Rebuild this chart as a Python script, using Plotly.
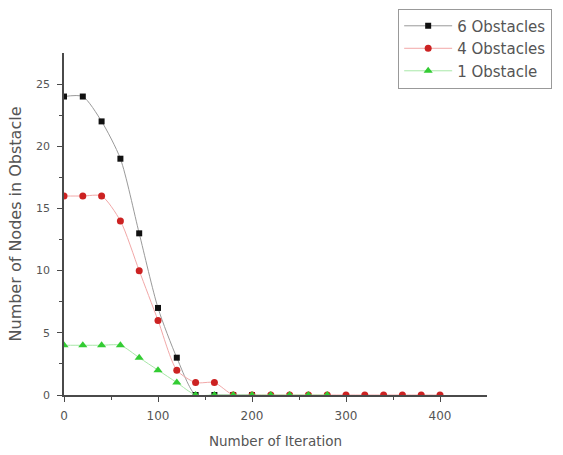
import plotly.graph_objects as go

iterations = [0, 20, 40, 60, 80, 100, 120, 140, 160, 180, 200, 220, 240, 260, 280, 300, 320, 340, 360, 380, 400]
obs6 = [24, 24, 22, 19, 13, 7, 3, 0, 0, 0, 0]
obs4 = [16, 16, 16, 14, 10, 6, 2, 1, 1, 0, 0, 0, 0, 0, 0, 0, 0, 0, 0, 0, 0]
obs1 = [4, 4, 4, 4, 3, 2, 1, 0, 0, 0, 0, 0, 0, 0, 0]

x_ticks = [0, 100, 200, 300, 400]
y_ticks = [0, 5, 10, 15, 20, 25]

FONT = "DejaVu Sans, Verdana, sans-serif"
TXT = "#555555"
AX = "#4a4a4a"

fig = go.Figure()
fig.add_trace(go.Scatter(
    x=iterations[:len(obs6)], y=obs6, name="6 Obstacles", mode="lines+markers",
    line=dict(color="#9a9a9a", width=1, shape="spline", smoothing=0.7),
    marker=dict(symbol="square", size=6, color="#111111"),
))
fig.add_trace(go.Scatter(
    x=iterations[:len(obs4)], y=obs4, name="4 Obstacles", mode="lines+markers",
    line=dict(color="#f2a8a8", width=1, shape="spline", smoothing=0.7),
    marker=dict(symbol="circle", size=7, color="#cc2222"),
))
fig.add_trace(go.Scatter(
    x=iterations[:len(obs1)], y=obs1, name="1 Obstacle", mode="lines+markers",
    line=dict(color="#a8e8a8", width=1, shape="spline", smoothing=0.7),
    marker=dict(symbol="triangle-up", size=8, color="#33cc33"),
))

fig.update_layout(
    width=563, height=455,
    margin=dict(l=64, r=76, t=53, b=60, autoexpand=False),
    paper_bgcolor="white", plot_bgcolor="white",
    font=dict(family=FONT, size=12, color=TXT),
    showlegend=True,
    legend=dict(
        x=0.79, y=1.13, xanchor="left", yanchor="top",
        bordercolor="#999999", borderwidth=1, bgcolor="white",
        font=dict(family=FONT, size=15, color="#555555"),
        tracegroupgap=0, itemwidth=48,
    ),
    xaxis=dict(
        range=[0, 450], tickvals=x_ticks, ticks="outside", ticklen=5, tickcolor=AX,
        ticklabelstandoff=4, automargin=False,
        tickfont=dict(family=FONT, size=12, color=TXT),
        showline=True, linecolor=AX, linewidth=1.5, showgrid=False, zeroline=False,
        minor=dict(tickvals=[50, 150, 250, 350], ticks="outside", ticklen=3, tickcolor=AX),
        title=dict(text="Number of Iteration", font=dict(family=FONT, size=13.5, color=TXT), standoff=14),
    ),
    yaxis=dict(
        range=[0, 27.5], tickvals=y_ticks, ticks="outside", ticklen=5, tickcolor=AX,
        ticklabelstandoff=5, automargin=False,
        tickfont=dict(family=FONT, size=11, color=TXT),
        showline=True, linecolor=AX, linewidth=1.5, showgrid=False, zeroline=False,
        minor=dict(tickvals=[2.5, 7.5, 12.5, 17.5, 22.5], ticks="outside", ticklen=3, tickcolor=AX),
        title=dict(text="Number of Nodes in Obstacle", font=dict(family=FONT, size=16, color=TXT), standoff=10),
    ),
)

fig.write_html("out.html")
